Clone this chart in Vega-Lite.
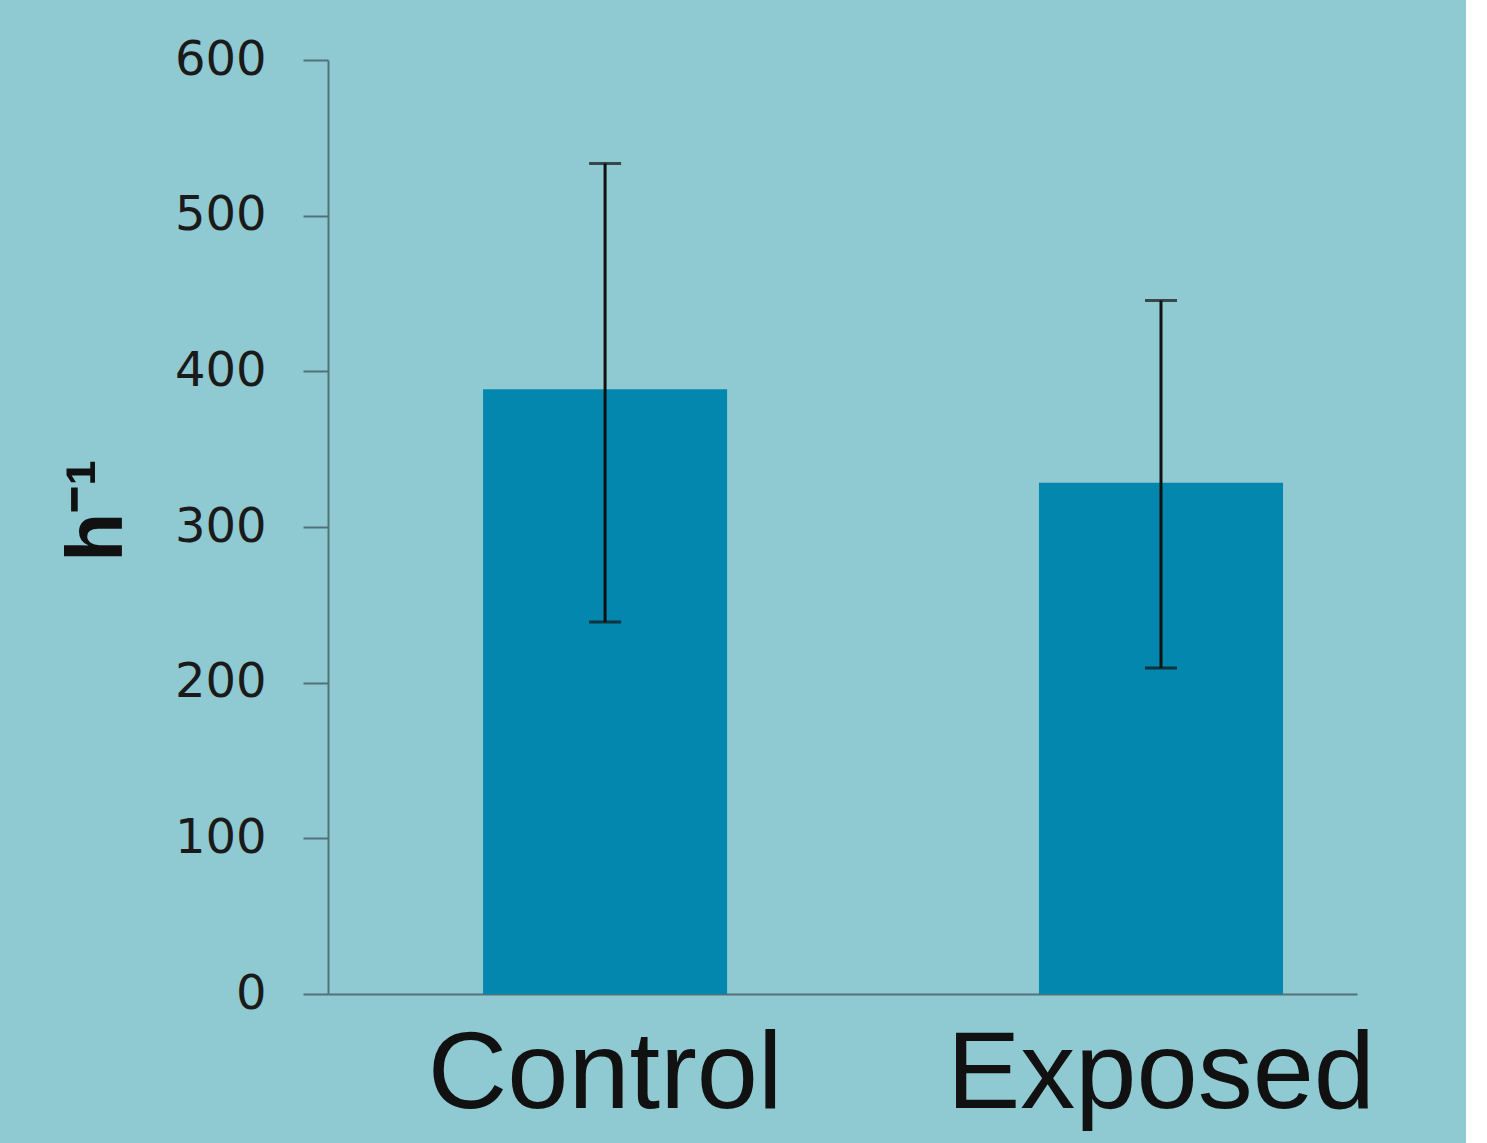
{
  "$schema": "https://vega.github.io/schema/vega-lite/v6.json",
  "autosize": {"type": "none"},
  "width": 1029,
  "height": 934,
  "padding": {"left": 328, "top": 60, "right": 109, "bottom": 149},
  "background": "#8FC9D2",
  "config": {"view": {"stroke": null}},
  "data": {"values": [
    {"group": "Control", "mean": 388.5, "lower": 239, "upper": 533.5},
    {"group": "Exposed", "mean": 328.5, "lower": 209.5, "upper": 445.5}
  ]},
  "encoding": {
    "x": {
      "field": "group", "type": "nominal", "sort": null,
      "scale": {"paddingInner": 0.561, "paddingOuter": 0.206, "align": 0.677},
      "axis": {
        "title": null, "labelAngle": 0, "ticks": false, "tickSize": 0,
        "labelFont": "Liberation Sans", "labelFontSize": 110, "labelColor": "#111111",
        "labelPadding": 26, "labelLimit": 2000, "labelOverlap": false, "labelBound": false,
        "domainColor": "#52727a", "domainWidth": 2
      }
    }
  },
  "layer": [
    {
      "mark": {"type": "bar", "color": "#0487AE"},
      "encoding": {
        "y": {
          "field": "mean", "type": "quantitative",
          "scale": {"domain": [0, 600], "nice": false},
          "axis": {
            "values": [0, 100, 200, 300, 400, 500, 600],
            "grid": false,
            "title": "h⁻¹",
            "titleFont": "Liberation Sans", "titleFontSize": 80, "titleFontWeight": "bold",
            "titleColor": "#111111", "titlePadding": 36, "titleY": 450,
            "labelFont": "DejaVu Sans", "labelFontSize": 48, "labelColor": "#1a1a1a",
            "labelPadding": 37, "tickSize": 25, "tickWidth": 2, "tickColor": "#52727a",
            "domainColor": "#52727a", "domainWidth": 2
          }
        }
      }
    },
    {
      "mark": {"type": "rule", "color": "#111111", "strokeWidth": 3},
      "encoding": {
        "y": {"field": "lower", "type": "quantitative"},
        "y2": {"field": "upper"}
      }
    },
    {
      "mark": {"type": "tick", "color": "#111111", "thickness": 3, "size": 32},
      "encoding": {"y": {"field": "upper", "type": "quantitative"}}
    },
    {
      "mark": {"type": "tick", "color": "#111111", "thickness": 3, "size": 32},
      "encoding": {"y": {"field": "lower", "type": "quantitative"}}
    }
  ]
}
